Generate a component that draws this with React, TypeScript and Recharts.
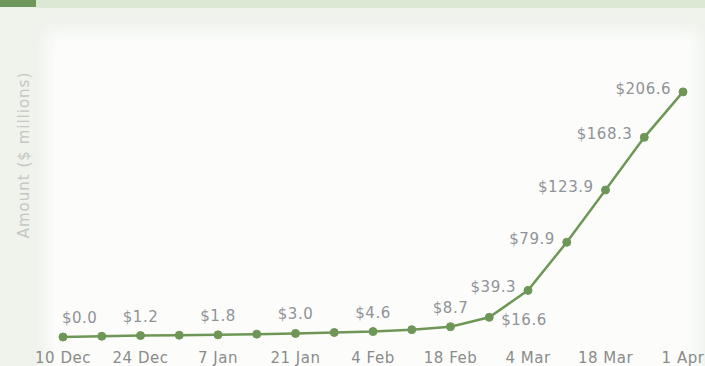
import { LineChart, Line, XAxis, YAxis, LabelList, Label } from "recharts"

const dates = [
  "10 Dec", "17 Dec", "24 Dec", "31 Dec", "7 Jan", "14 Jan", "21 Jan", "28 Jan",
  "4 Feb", "11 Feb", "18 Feb", "25 Feb", "4 Mar", "11 Mar", "18 Mar", "25 Mar", "1 Apr",
]
const amounts = [0.0, 0.6, 1.2, 1.5, 1.8, 2.4, 3.0, 3.8, 4.6, 6.2, 8.7, 16.6, 39.3, 79.9, 123.9, 168.3, 206.6]
// which points carry a value label
const labeledDates = ["10 Dec", "24 Dec", "7 Jan", "21 Jan", "4 Feb", "18 Feb", "25 Feb", "4 Mar", "11 Mar", "18 Mar", "25 Mar", "1 Apr"]

const data = dates.map((d, i) => ({ date: d, amount: amounts[i] }))

const GREEN = "#6e9757"
const LABEL = "#8f9398"
const FONT = "'DejaVu Sans', Verdana, sans-serif"

function ValueLabel(props: any) {
  const { x, y, value, index } = props
  if (!labeledDates.includes(dates[index])) return null
  const text = "$" + Number(value).toFixed(1)
  let tx = x
  let ty = y - 14
  let anchor: "start" | "middle" | "end" = "middle"
  if (index === 0) {
    anchor = "start"
    tx = x - 1
  } else if (dates[index] === "25 Feb") {
    anchor = "start"
    tx = x + 12
    ty = y + 8
  } else if (value > 30) {
    anchor = "end"
    tx = x - 12
    ty = y + 2
  }
  return (
    <text x={tx} y={ty} textAnchor={anchor} fill={LABEL} fontSize={15} letterSpacing={0.5} fontFamily={FONT}>
      {text}
    </text>
  )
}

export default function App() {
  return (
    <div style={{ position: "absolute", left: 0, top: 0, width: 705, height: 366, background: "#eff3ec", overflow: "hidden" }}>
      <div style={{ position: "absolute", left: 0, top: 0, width: 36, height: 7, background: "#6f975b" }} />
      <div style={{ position: "absolute", left: 36, top: 0, width: 669, height: 8, background: "#dde8d4" }} />
      <div
        style={{
          position: "absolute",
          left: 55,
          top: 40,
          width: 635,
          height: 330,
          background: "#fcfdfb",
          boxShadow: "0 0 14px 8px #fcfdfb",
        }}
      />
      <div style={{ position: "absolute", left: 0, top: 0 }}>
        <LineChart width={705} height={366} data={data} margin={{ top: 76, right: 22, bottom: 0, left: 0 }}>
          <XAxis
            dataKey="date"
            interval={1}
            axisLine={false}
            tickLine={false}
            height={29}
            tickMargin={9}
            padding={{ left: 0, right: 0 }}
            tick={{ fill: "#8a8c8a", fontSize: 15, fontFamily: FONT, letterSpacing: 0.5 }}
          />
          <YAxis domain={[0, 220]} width={63} tick={false} axisLine={false} tickLine={false}>
            <Label
              content={() => (
                <text
                  x={24}
                  y={155}
                  transform="rotate(-90 24 155)"
                  textAnchor="middle"
                  dominantBaseline="central"
                  fill="#c4c8c3"
                  fontSize={15}
                  letterSpacing={1}
                  fontFamily={FONT}
                >
                  Amount ($ millions)
                </text>
              )}
            />
          </YAxis>
          <Line
            type="linear"
            dataKey="amount"
            stroke={GREEN}
            strokeWidth={2.5}
            dot={{ r: 4, fill: GREEN, stroke: GREEN, strokeWidth: 1 }}
            isAnimationActive={false}
          >
            <LabelList dataKey="amount" content={ValueLabel} />
          </Line>
        </LineChart>
      </div>
    </div>
  )
}
